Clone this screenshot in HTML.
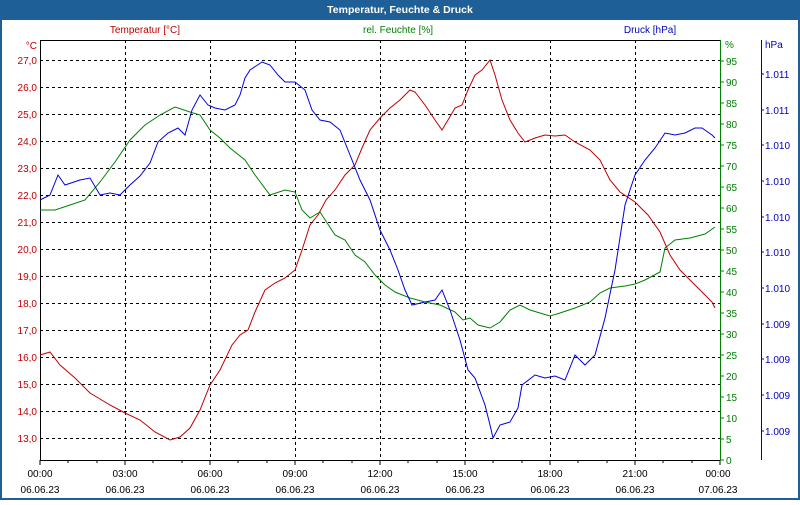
<!DOCTYPE html>
<html><head><meta charset="utf-8"><style>
body{margin:0;width:800px;height:500px;overflow:hidden;background:#fff;font-family:"Liberation Sans",sans-serif}
</style></head><body>
<svg width="800" height="500" xmlns="http://www.w3.org/2000/svg" font-family="Liberation Sans, sans-serif" font-size="10">
<rect x="0" y="0" width="800" height="500" fill="#1d5f96"/>
<rect x="2" y="20" width="796" height="478" fill="#fff"/>
<text x="400" y="13" fill="#fff" font-weight="bold" font-size="10.5" text-anchor="middle">Temperatur, Feuchte &amp; Druck</text>
<text x="145" y="33" fill="#c00000" text-anchor="middle">Temperatur [°C]</text>
<text x="398" y="33" fill="#008000" text-anchor="middle">rel. Feuchte [%]</text>
<text x="650" y="33" fill="#0000c0" text-anchor="middle">Druck [hPa]</text>
<g stroke="#000" stroke-dasharray="3,3" stroke-width="1">
<path d="M125.5 40V460M210.5 40V460M295.5 40V460M380.5 40V460M465.5 40V460M550.5 40V460M635.5 40V460"/>
<path d="M40 60.5H720M40 87.5H720M40 114.5H720M40 141.5H720M40 168.5H720M40 195.5H720M40 222.5H720M40 249.5H720M40 276.5H720M40 303.5H720M40 330.5H720M40 357.5H720M40 384.5H720M40 411.5H720M40 438.5H720"/>
</g>
<path d="M40.5 40V460.5H720M40 40.5H720" stroke="#000" fill="none"/>
<g stroke="#000"><path d="M40 460v5M68 460v3M97 460v3M125 460v5M153 460v3M182 460v3M210 460v5M238 460v3M267 460v3M295 460v5M323 460v3M352 460v3M380 460v5M408 460v3M437 460v3M465 460v5M493 460v3M522 460v3M550 460v5M578 460v3M607 460v3M635 460v5M663 460v3M692 460v3M720 460v5"/></g>
<path d="M720.5 40V460" stroke="#008000"/>
<path d="M761.5 40V460" stroke="#0000c0"/>
<g fill="#c00000" text-anchor="end">
<text x="37" y="49">°C</text>
<text x="37" y="64">27,0</text><text x="37" y="91">26,0</text><text x="37" y="118">25,0</text><text x="37" y="145">24,0</text><text x="37" y="172">23,0</text><text x="37" y="199">22,0</text><text x="37" y="226">21,0</text><text x="37" y="253">20,0</text><text x="37" y="280">19,0</text><text x="37" y="307">18,0</text><text x="37" y="334">17,0</text><text x="37" y="361">16,0</text><text x="37" y="388">15,0</text><text x="37" y="415">14,0</text><text x="37" y="442">13,0</text>
</g>
<g fill="#008000"><text x="725" y="48">%</text></g>
<g fill="#008000" stroke="#008000">
<path d="M720 61h4M720 82h4M720 103h4M720 124h4M720 145h4M720 166h4M720 187h4M720 208h4M720 229h4M720 250h4M720 271h4M720 292h4M720 313h4M720 334h4M720 355h4M720 376h4M720 397h4M720 418h4M720 439h4M720 460h4"/>
</g>
<g fill="#008000">
<text x="726" y="65">95</text><text x="726" y="86">90</text><text x="726" y="107">85</text><text x="726" y="128">80</text><text x="726" y="149">75</text><text x="726" y="170">70</text><text x="726" y="191">65</text><text x="726" y="212">60</text><text x="726" y="233">55</text><text x="726" y="254">50</text><text x="726" y="275">45</text><text x="726" y="296">40</text><text x="726" y="317">35</text><text x="726" y="338">30</text><text x="726" y="359">25</text><text x="726" y="380">20</text><text x="726" y="401">15</text><text x="726" y="422">10</text><text x="726" y="443">5</text><text x="726" y="464">0</text>
</g>
<g fill="#0000c0">
<text x="765" y="48">hPa</text>
<text x="765" y="78">1.011</text><text x="765" y="114">1.011</text><text x="765" y="149">1.010</text><text x="765" y="185">1.010</text><text x="765" y="221">1.010</text><text x="765" y="256">1.010</text><text x="765" y="292">1.010</text><text x="765" y="328">1.009</text><text x="765" y="363">1.009</text><text x="765" y="399">1.009</text><text x="765" y="435">1.009</text>
</g>
<g stroke="#0000c0"><path d="M761 74h3M761 110h3M761 145h3M761 181h3M761 217h3M761 252h3M761 288h3M761 324h3M761 359h3M761 395h3M761 431h3"/></g>
<g fill="#000" text-anchor="middle">
<text x="40" y="477">00:00</text><text x="125" y="477">03:00</text><text x="210" y="477">06:00</text><text x="295" y="477">09:00</text><text x="380" y="477">12:00</text><text x="465" y="477">15:00</text><text x="550" y="477">18:00</text><text x="635" y="477">21:00</text><text x="718" y="477">00:00</text>
<text x="40" y="493">06.06.23</text><text x="125" y="493">06.06.23</text><text x="210" y="493">06.06.23</text><text x="295" y="493">06.06.23</text><text x="380" y="493">06.06.23</text><text x="465" y="493">06.06.23</text><text x="550" y="493">06.06.23</text><text x="635" y="493">06.06.23</text><text x="718" y="493">07.06.23</text>
</g>
<polyline fill="none" stroke="#008000" points="40,210 55,210 70,205 85,200 100,182 115,162 130,140 145,125 160,115 175,107 190,112 200,115 210,130 220,138 230,148 245,160 255,175 270,195 285,190 295,192 302,210 310,218 320,212 335,235 345,240 355,255 365,262 375,275 385,285 395,292 410,298 425,302 440,305 455,312 463,320 470,318 478,325 490,328 500,322 510,310 520,305 530,310 540,313 550,316 560,313 575,308 590,302 600,293 610,288 625,286 635,284 645,280 660,272 665,248 675,240 690,238 705,234 715,227"/>
<polyline fill="none" stroke="#c00000" points="40,355 50,352 60,365 75,378 90,393 110,405 125,413 140,420 155,432 170,440 180,437 190,428 200,410 210,385 220,370 232,345 240,335 248,330 255,312 265,290 275,283 285,278 295,270 302,250 310,225 318,215 326,200 335,190 345,175 355,165 362,148 370,130 380,118 390,108 400,100 410,90 415,92 425,105 435,120 442,130 448,120 455,108 462,105 468,90 475,75 482,70 490,60 495,75 502,100 510,120 518,133 525,142 535,138 545,135 555,136 565,135 575,142 590,150 600,160 610,180 620,192 635,202 648,215 660,232 670,255 680,270 695,285 705,295 712,302 715,308"/>
<polyline fill="none" stroke="#0000e0" points="40,200 50,195 58,175 65,185 80,180 90,178 100,195 110,193 120,195 130,185 140,176 150,163 158,142 168,133 178,128 185,135 192,110 200,95 208,105 215,108 225,110 235,105 240,95 245,78 250,70 262,62 270,65 278,75 285,82 295,82 305,90 312,110 320,120 330,122 340,130 350,155 360,180 370,200 380,230 390,250 398,270 405,290 412,305 425,302 435,300 442,290 450,310 460,340 468,370 475,378 485,405 490,425 493,438 500,425 510,422 518,408 522,385 535,375 545,378 555,376 565,380 575,355 585,365 595,355 605,318 615,270 625,205 635,175 645,160 655,148 665,133 675,135 685,133 695,128 702,128 712,135 715,138"/>
</svg>
</body></html>
